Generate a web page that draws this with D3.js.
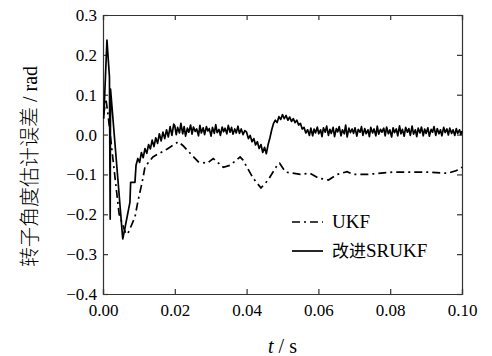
<!DOCTYPE html>
<html>
<head>
<meta charset="utf-8">
<script src="https://cdn.jsdelivr.net/npm/d3@7"></script>
<style>
  body { margin: 0; background: #fff; }
</style>
</head>
<body>
<div id="chart"></div>
<script>
// tick values
var xTicks = [0, 0.02, 0.04, 0.06, 0.08, 0.10];
var yTicks = [-0.4, -0.3, -0.2, -0.1, 0.0, 0.1, 0.2, 0.3];
var seriesNames = ["UKF", "改进SRUKF"];

// UKF error [t, rad]
var ukf = [
  [0.0002, 0.05], [0.0008, 0.09], [0.0014, 0.05], [0.003, -0.08], [0.0045, -0.2],
  [0.0064, -0.25], [0.007, -0.247], [0.0089, -0.207], [0.0098, -0.164], [0.0109, -0.12],
  [0.0117, -0.081], [0.0139, -0.056], [0.0179, -0.036], [0.021, -0.018], [0.0223, -0.028],
  [0.0265, -0.068], [0.029, -0.072], [0.0307, -0.06], [0.0335, -0.082], [0.0354, -0.077],
  [0.0382, -0.056], [0.039, -0.064], [0.0418, -0.109], [0.044, -0.134], [0.046, -0.114],
  [0.0485, -0.077], [0.0492, -0.072], [0.0508, -0.094], [0.055, -0.1], [0.0577, -0.097],
  [0.06, -0.109], [0.0628, -0.114], [0.0652, -0.1], [0.068, -0.093], [0.0697, -0.1],
  [0.0736, -0.1], [0.081, -0.094], [0.09, -0.094], [0.096, -0.097], [0.0985, -0.09],
  [0.1, -0.082]
];

// improved SRUKF error [t, rad]
var srukf = [
  [0.0002, 0.04], [0.0011, 0.237], [0.0018, 0.144], [0.002, -0.212], [0.0021, 0.114],
  [0.0055, -0.262], [0.0061, -0.235], [0.0075, -0.17], [0.0077, -0.12], [0.0089, -0.12],
  [0.0092, -0.077], [0.0097, -0.06], [0.0102, -0.07], [0.0107, -0.045], [0.0112, -0.058],
  [0.0117, -0.035], [0.0122, -0.047], [0.0127, -0.025], [0.0132, -0.036], [0.0137, -0.014],
  [0.0142, -0.03], [0.0147, -0.008], [0.0152, -0.022], [0.0157, 0.002], [0.0162, -0.016],
  [0.0167, 0.006], [0.0172, -0.01], [0.0177, 0.012], [0.0182, -0.006], [0.0187, 0.02],
  [0.0192, -0.002], [0.0197, 0.026],
  [0.020, 0.022], [0.0204, 0.000], [0.0208, 0.018], [0.0213, 0.004], [0.0217, 0.028],
  [0.0222, 0.002], [0.0226, 0.020], [0.023, -0.004], [0.0235, 0.016], [0.0239, 0.006],
  [0.0244, 0.024], [0.0248, 0.001], [0.0252, 0.019], [0.0257, 0.008], [0.0261, 0.014],
  [0.0266, -0.003], [0.027, 0.023], [0.0274, 0.004], [0.0279, 0.017], [0.0283, 0.000],
  [0.0288, 0.020], [0.0292, 0.009], [0.0296, 0.015], [0.0301, -0.004], [0.0305, 0.018],
  [0.031, 0.003], [0.0314, 0.025], [0.0318, 0.005], [0.0323, 0.013], [0.0327, -0.002],
  [0.0332, 0.019], [0.0336, 0.007], [0.034, 0.016], [0.0345, 0.002], [0.0349, 0.023],
  [0.0354, 0.006], [0.0358, 0.018], [0.0362, 0.001], [0.0367, 0.014], [0.0371, 0.004],
  [0.0376, 0.021], [0.038, 0.003], [0.0385, 0.014], [0.039, 0.000], [0.0395, 0.010],
  [0.040, 0.006], [0.0405, -0.010], [0.041, -0.002], [0.0415, -0.018], [0.042, -0.010],
  [0.0425, -0.026], [0.043, -0.018], [0.0435, -0.035], [0.044, -0.025], [0.0445, -0.045],
  [0.045, -0.032], [0.0455, -0.048], [0.046, -0.025], [0.0465, -0.008], [0.047, 0.012],
  [0.0475, 0.028], [0.048, 0.036], [0.0485, 0.030], [0.049, 0.045], [0.0495, 0.038],
  [0.050, 0.050], [0.0505, 0.040], [0.051, 0.048], [0.0515, 0.036], [0.052, 0.044],
  [0.0525, 0.033], [0.053, 0.040], [0.0535, 0.030], [0.054, 0.036], [0.0545, 0.024],
  [0.055, 0.028], [0.0555, 0.014], [0.056, 0.018], [0.0565, 0.004], [0.057, 0.012],
  [0.0575, -0.002], [0.0579, 0.016], [0.0584, -0.003], [0.0588, 0.014], [0.0592, 0.004],
  [0.0597, 0.019], [0.0601, 0.002], [0.0606, 0.012], [0.061, -0.005], [0.0614, 0.017],
  [0.0619, 0.006], [0.0623, 0.021], [0.0628, -0.002], [0.0632, 0.013], [0.0636, 0.003],
  [0.0641, 0.018], [0.0645, -0.005], [0.065, 0.015], [0.0654, 0.007], [0.0658, 0.020],
  [0.0663, -0.003], [0.0667, 0.012], [0.0672, 0.002], [0.0676, 0.024], [0.068, -0.006],
  [0.0685, 0.016], [0.0689, 0.005], [0.0694, 0.014], [0.0698, 0.003], [0.0702, 0.017],
  [0.0707, -0.004], [0.0711, 0.013], [0.0716, 0.006], [0.072, 0.020], [0.0724, -0.002],
  [0.0729, 0.015], [0.0733, 0.002], [0.0738, 0.012], [0.0742, -0.005], [0.0746, 0.018],
  [0.0751, 0.004], [0.0755, 0.014], [0.076, -0.003], [0.0764, 0.021], [0.0768, 0.001],
  [0.0773, 0.013], [0.0777, 0.006], [0.0782, 0.016], [0.0786, -0.003], [0.079, 0.019],
  [0.0795, 0.002], [0.0799, 0.012], [0.0804, -0.006], [0.0808, 0.017], [0.0812, 0.005],
  [0.0817, 0.014], [0.0821, -0.003], [0.0826, 0.022], [0.083, 0.002], [0.0834, 0.013],
  [0.0839, -0.004], [0.0843, 0.018], [0.0848, 0.006], [0.0852, 0.015], [0.0856, -0.002],
  [0.0861, 0.021], [0.0865, 0.001], [0.087, 0.012], [0.0874, -0.005], [0.0878, 0.016],
  [0.0883, 0.004], [0.0887, 0.019], [0.0892, -0.003], [0.0896, 0.014], [0.09, 0.003],
  [0.0905, 0.017], [0.0909, -0.004], [0.0914, 0.013], [0.0918, 0.006], [0.0922, 0.020],
  [0.0927, -0.002], [0.0931, 0.015], [0.0936, 0.002], [0.094, 0.012], [0.0944, -0.003],
  [0.0949, 0.018], [0.0953, 0.005], [0.0958, 0.014], [0.0962, -0.001], [0.0966, 0.016],
  [0.0971, 0.003], [0.0975, 0.012], [0.098, -0.002], [0.0984, 0.015], [0.0988, 0.003],
  [0.0993, 0.012], [0.0997, 0.000], [0.100, 0.009]
];

var W = 492, H = 356;
var margin = {top: 15, right: 30, bottom: 62, left: 103},
    width = W - margin.left - margin.right,
    height = H - margin.top - margin.bottom;

var serif = "Liberation Serif, serif";
var cjk = "Noto Sans CJK SC, sans-serif";

var svg = d3.select("#chart")
  .append("svg")
    .attr("width", W)
    .attr("height", H)
    .style("font-family", serif)
  .append("g")
    .attr("transform", "translate(" + margin.left + "," + margin.top + ")");

var x = d3.scaleLinear().domain([0, 0.1]).range([0, width]);
var y = d3.scaleLinear().domain([-0.4, 0.3]).range([height, 0]);

// axes, ticks pointing inward on all four sides
var axisColor = "#333";
function styleAxis(g) {
  g.attr("font-family", serif).attr("font-size", 17);
  g.select(".domain").attr("stroke", axisColor).attr("stroke-width", 1.2);
  g.selectAll(".tick line").attr("stroke", axisColor).attr("stroke-width", 1.2);
  g.selectAll("text").style("font-family", serif).attr("fill", "#000");
}

svg.append("g")
  .attr("transform", "translate(0," + height + ")")
  .call(d3.axisBottom(x).tickValues(xTicks).tickSize(-5).tickPadding(10).tickFormat(d3.format(".2f")))
  .call(styleAxis);

svg.append("g")
  .call(d3.axisTop(x).tickValues(xTicks).tickSize(-5).tickFormat(""))
  .call(styleAxis);

svg.append("g")
  .call(d3.axisLeft(y).tickValues(yTicks).tickSize(-5).tickPadding(6).tickFormat(d3.format(".1f")))
  .call(styleAxis);

svg.append("g")
  .attr("transform", "translate(" + width + ",0)")
  .call(d3.axisRight(y).tickValues(yTicks).tickSize(-5).tickFormat(""))
  .call(styleAxis);

// lines
var line = d3.line()
  .x(function(d) { return x(d[0]); })
  .y(function(d) { return y(d[1]); });

svg.append("path")
  .datum(ukf)
  .attr("fill", "none")
  .attr("stroke", "#000")
  .attr("stroke-width", 1.7)
  .attr("stroke-dasharray", "8,4,2,4")
  .attr("d", line);

svg.append("path")
  .datum(srukf)
  .attr("fill", "none")
  .attr("stroke", "#000")
  .attr("stroke-width", 1.7)
  .attr("stroke-linejoin", "round")
  .attr("d", line);

// legend
var legend = svg.append("g").attr("transform", "translate(189,207)");
var dashes = ["8,4,2,4", null];
legend.selectAll("line.key")
  .data(seriesNames)
  .enter()
  .append("line")
    .attr("x1", 0).attr("x2", 31)
    .attr("y1", function(d, i) { return i * 29; })
    .attr("y2", function(d, i) { return i * 29; })
    .attr("stroke", "#000")
    .attr("stroke-width", 1.7)
    .attr("stroke-dasharray", function(d, i) { return dashes[i]; });

var labels = legend.selectAll("text.key")
  .data(seriesNames)
  .enter()
  .append("text")
    .attr("x", 40)
    .attr("y", function(d, i) { return i * 29 + 6; })
    .style("font-family", serif)
    .style("font-size", "19px");
labels.each(function(d) {
  var t = d3.select(this);
  var m = d.match(/^([^A-Za-z]*)(.*)$/);
  if (m[1]) t.append("tspan").style("font-family", cjk).style("font-size", "17px").text(m[1]);
  t.append("tspan").style("font-family", serif).text(m[2]);
});

// x label
var xl = svg.append("text")
  .attr("x", width / 2)
  .attr("y", height + 59)
  .attr("text-anchor", "middle")
  .style("font-family", serif)
  .style("font-size", "20px");
xl.append("tspan").style("font-style", "italic").text("t");
xl.append("tspan").text(" / s");

// y label
var yl = svg.append("text")
  .attr("transform", "translate(" + (-66) + "," + (height / 2 + 12) + ") rotate(-90)")
  .attr("text-anchor", "middle")
  .style("font-size", "20px");
yl.append("tspan").style("font-family", cjk).style("font-weight", 300).text("转子角度估计误差");
yl.append("tspan").style("font-family", serif).text(" / rad");
</script>
</body>
</html>
